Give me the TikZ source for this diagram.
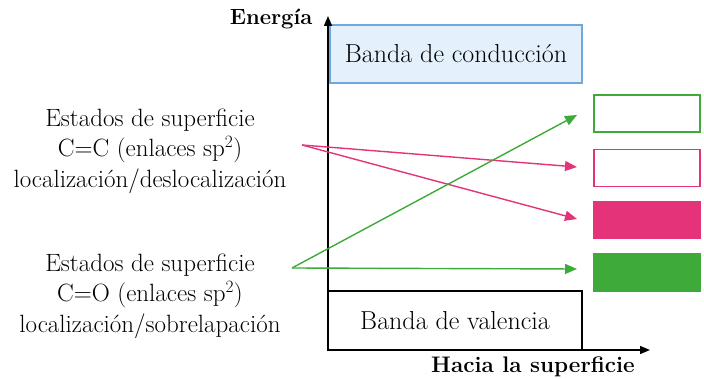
\documentclass[tikz,border=0pt]{standalone}
\usetikzlibrary{arrows.meta}
\definecolor{pinkc}{HTML}{E5337A}
\definecolor{greenc}{HTML}{3DAA3A}
\definecolor{bluec}{HTML}{6FA8DC}
\definecolor{bluefill}{HTML}{E4F0FB}
\begin{document}
\begin{tikzpicture}[x=1pt,y=-1pt,
  band/.style={draw, line width=1.2pt, minimum width=#1, minimum height=58pt, inner sep=0pt, font=\fontsize{26}{30}\selectfont},
  state/.style={draw, line width=1.2pt, minimum width=106pt, minimum height=37pt, inner sep=0pt},
  lbl/.style={align=center, font=\fontsize{25}{30.5}\selectfont},
  axl/.style={font=\bfseries\fontsize{22}{26}\selectfont},
  arr/.style={line width=1.4pt, -{Triangle[length=12pt,width=10pt]}}
]
\useasboundingbox (0,0) rectangle (704,379);
% bands
\node[band=252pt, draw=bluec, fill=bluefill] (cb) at (456,54) {Banda de conducci\'on};
\node[band=254pt, minimum height=59pt] (vb) at (455,320.5) {Banda de valencia};
% axes
\coordinate (O) at (328,350);
\coordinate (ytop) at (328,16);
\coordinate (xend) at (650,350);
\draw[line width=1.4pt, -{Triangle[length=10pt,width=8pt]}] (O) -- (ytop);
\draw[line width=1.4pt, -{Triangle[length=10pt,width=8pt]}] (O) -- (xend);
\node[axl, anchor=east] (en) at (316,19) {Energ\'ia};
\node[axl, font=\bfseries\fontsize{22.5}{26}\selectfont] (hs) at (533,367) {Hacia la superficie};
% state boxes
\node[state, draw=greenc] (s1) at (647,113.5) {};
\node[state, draw=pinkc] (s2) at (647,168) {};
\node[state, draw=pinkc, fill=pinkc] (s3) at (647,220) {};
\node[state, draw=greenc, fill=greenc] (s4) at (647,272.5) {};
% labels
\node[lbl] (cc) at (150,151) {Estados de superficie\\C=C (enlaces sp$^2$)\\localizaci\'on/deslocalizaci\'on};
\node[lbl] (co) at (150,296) {Estados de superficie\\C=O (enlaces sp$^2$)\\localizaci\'on/sobrelapaci\'on};
% arrows
\coordinate (pc) at (302,145);
\coordinate (gc) at (292,268);
\coordinate (t1) at (577,115);
\coordinate (t2) at (577,167);
\coordinate (t3) at (577,219);
\coordinate (t4) at (577,269);
\draw[arr, pinkc] (pc) -- (t2);
\draw[arr, pinkc] (pc) -- (t3);
\draw[arr, greenc] (gc) -- (t1);
\draw[arr, greenc] (gc) -- (t4);
\end{tikzpicture}
\end{document}
